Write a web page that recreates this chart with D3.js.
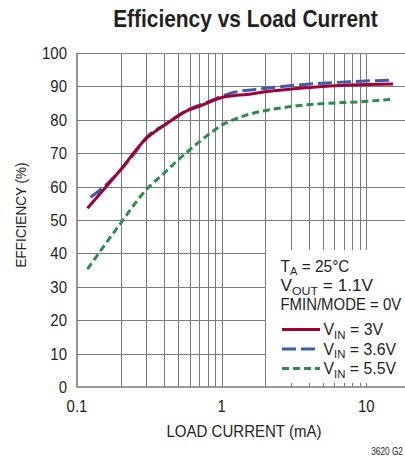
<!DOCTYPE html>
<html>
<head>
<meta charset="utf-8">
<script src="https://cdn.jsdelivr.net/npm/d3@7"></script>
<style>
  html, body { margin: 0; padding: 0; background: #fff; }
  svg { display: block; }
  text { font-family: "Liberation Sans Narrow", "Liberation Sans", Arial, sans-serif; fill: #231f20; }
</style>
</head>
<body>
<svg id="chart" width="405" height="464"></svg>
<script>
// ---- data ----
const title = "Efficiency vs Load Current";
const xTitle = "LOAD CURRENT (mA)";
const yTitle = "EFFICIENCY (%)";
const footnote = "3620 G2";
const yTicks = [0, 10, 20, 30, 40, 50, 60, 70, 80, 90, 100];
const xTickLabels = [0.1, 1, 10];
const xGrid = [0.2, 0.3, 0.4, 0.5, 0.6, 0.7, 0.8, 0.9, 1, 2, 3, 4, 5, 6, 7, 8, 9, 10];

const current3V   = [0.118, 0.193, 0.303, 0.406, 0.588, 0.727, 0.83, 1.03, 1.2, 1.5, 2.0, 4.07, 7.7, 15.3];
const eff3V       = [53.5, 64.2, 74.5, 78.5, 82.9, 84.3, 85.4, 86.8, 87.2, 87.6, 88.4, 89.7, 90.4, 90.7];
const current36V  = [0.124, 0.165, 0.25, 0.303, 0.406, 0.588, 0.83, 1.14, 1.99, 4.07, 7.7, 15.0];
const eff36V      = [56.8, 61.2, 70.0, 74.8, 78.6, 83.0, 85.6, 87.9, 89.4, 90.7, 91.4, 91.9];
const current55V  = [0.118, 0.2, 0.3, 0.4, 0.5, 0.6, 0.7, 0.8, 0.9, 1.0, 1.2, 1.41, 2.81, 4.78, 9.03, 14.6];
const eff55V      = [35.3, 49.0, 59.0, 64.0, 68.0, 71.0, 73.4, 75.4, 77.0, 78.4, 80.0, 81.1, 83.8, 84.8, 85.4, 86.1];

const seriesNames = ["3V", "3.6V", "5.5V"];
const legendNotes = [["T", "A", " = 25°C"], ["V", "OUT", " = 1.1V"], ["FMIN/MODE = 0V", "", ""]];

// ---- layout ----
const svg = d3.select("#chart");
const L = 77, R = 405, T = 53, B = 387;
const x = d3.scaleLog().domain([0.1, 18.5]).range([L, R]);
const y = d3.scaleLinear().domain([0, 100]).range([B, T]);
const gridColor = "#7a7a7a";
const legX = x(2), legY = 250;

function squeeze(sel, target) {
  const w = sel.node().getBBox().width;
  const k = target / w;
  const ax = +sel.attr("x");
  sel.attr("transform", `translate(${ax},0) scale(${k},1) translate(${-ax},0)`);
}
function squeezeK(sel, k) {
  const ax = +sel.attr("x");
  sel.attr("transform", `translate(${ax},0) scale(${k},1) translate(${-ax},0)`);
}

// grid horizontal
svg.append("g").selectAll("line").data(yTicks.filter(d => d > 0)).join("line")
  .attr("x1", L).attr("x2", d => (d === 100 || y(d) < legY) ? R : legX)
  .attr("y1", d => Math.round(y(d)) + 0.5).attr("y2", d => Math.round(y(d)) + 0.5)
  .attr("stroke", gridColor).attr("stroke-width", 1);
// grid vertical
svg.append("g").selectAll("line").data(xGrid).join("line")
  .attr("x1", d => Math.round(x(d)) + 0.5).attr("x2", d => Math.round(x(d)) + 0.5)
  .attr("y1", T).attr("y2", d => d > 2 ? legY : B)
  .attr("stroke", gridColor).attr("stroke-width", 1);
// small inner ticks under legend
svg.append("g").selectAll("line").data(xGrid.filter(d => d > 2)).join("line")
  .attr("x1", d => Math.round(x(d)) + 0.5).attr("x2", d => Math.round(x(d)) + 0.5)
  .attr("y1", B - 4).attr("y2", B)
  .attr("stroke", gridColor).attr("stroke-width", 1);

// axes lines
svg.append("line").attr("x1", L).attr("x2", L).attr("y1", T).attr("y2", B + 0.5)
  .attr("stroke", gridColor).attr("stroke-width", 1.6);
svg.append("line").attr("x1", L).attr("x2", R).attr("y1", B).attr("y2", B)
  .attr("stroke", gridColor).attr("stroke-width", 1.6);

// tick labels
svg.append("g").selectAll("text").data(yTicks).join("text")
  .attr("x", 67).attr("y", d => y(d) + 6)
  .attr("text-anchor", "end").attr("font-size", 17).text(d => d)
  .each(function () { squeezeK(d3.select(this), 0.88); });
svg.append("g").selectAll("text").data(xTickLabels).join("text")
  .attr("x", d => x(d)).attr("y", 412)
  .attr("text-anchor", "middle").attr("font-size", 17).text(d => d)
  .each(function () { squeezeK(d3.select(this), 0.88); });

// titles
squeeze(svg.append("text").attr("x", 245.5).attr("y", 27).attr("text-anchor", "middle")
  .attr("font-size", 23).attr("font-weight", "bold").text(title), 265);
squeeze(svg.append("text").attr("x", 244).attr("y", 437).attr("text-anchor", "middle")
  .attr("font-size", 16).text(xTitle), 155);
const yt = svg.append("text").attr("x", 0).attr("y", 0).attr("text-anchor", "middle")
  .attr("font-size", 15.5).text(yTitle);
const ytw = yt.node().getBBox().width;
yt.attr("transform", `translate(26,215) rotate(-90) scale(${105 / ytw},1)`);
squeeze(svg.append("text").attr("x", 403).attr("y", 455).attr("text-anchor", "end")
  .attr("font-size", 10.5).text(footnote), 32);

// series
const series = [
  { name: seriesNames[2], xs: current55V, ys: eff55V, color: "#2f8a4b", dash: "7,4" },
  { name: seriesNames[1], xs: current36V, ys: eff36V, color: "#3a5ca9", dash: "14,5" },
  { name: seriesNames[0], xs: current3V,  ys: eff3V,  color: "#a0003a", dash: null }
];
const line = d3.line().x(d => x(d[0])).y(d => y(d[1])).curve(d3.curveMonotoneX);
series.forEach(s => {
  svg.append("path").datum(s.xs.map((v, i) => [v, s.ys[i]]))
    .attr("d", line).attr("fill", "none").attr("stroke", s.color)
    .attr("stroke-width", 3).attr("stroke-dasharray", s.dash);
});

// legend notes
const noteWidths = [69, 93, 121];
legendNotes.forEach((n, i) => {
  const t = svg.append("text").attr("x", 280.5).attr("y", 272 + i * 19.2).attr("font-size", 16);
  t.append("tspan").text(n[0]);
  if (n[1]) {
    t.append("tspan").attr("font-size", 11.5).attr("dy", 3.5).text(n[1]);
    t.append("tspan").attr("dy", -3.5).text(n[2]);
  }
  squeeze(t, noteWidths[i]);
});
// legend entries
const legendOrder = [series[2], series[1], series[0]];
const entryWidths = [60, 73, 73];
legendOrder.forEach((s, i) => {
  const yy = 329.5 + i * 19.5;
  svg.append("line").attr("x1", 282).attr("x2", 320).attr("y1", yy).attr("y2", yy)
    .attr("stroke", s.color).attr("stroke-width", 3).attr("stroke-dasharray", s.dash);
  const t = svg.append("text").attr("x", 323.5).attr("y", yy + 6).attr("font-size", 16);
  t.append("tspan").text("V");
  t.append("tspan").attr("font-size", 11.5).attr("dy", 3.5).text("IN");
  t.append("tspan").attr("dy", -3.5).text(" = " + s.name);
  squeeze(t, entryWidths[i]);
});
</script>
</body>
</html>
